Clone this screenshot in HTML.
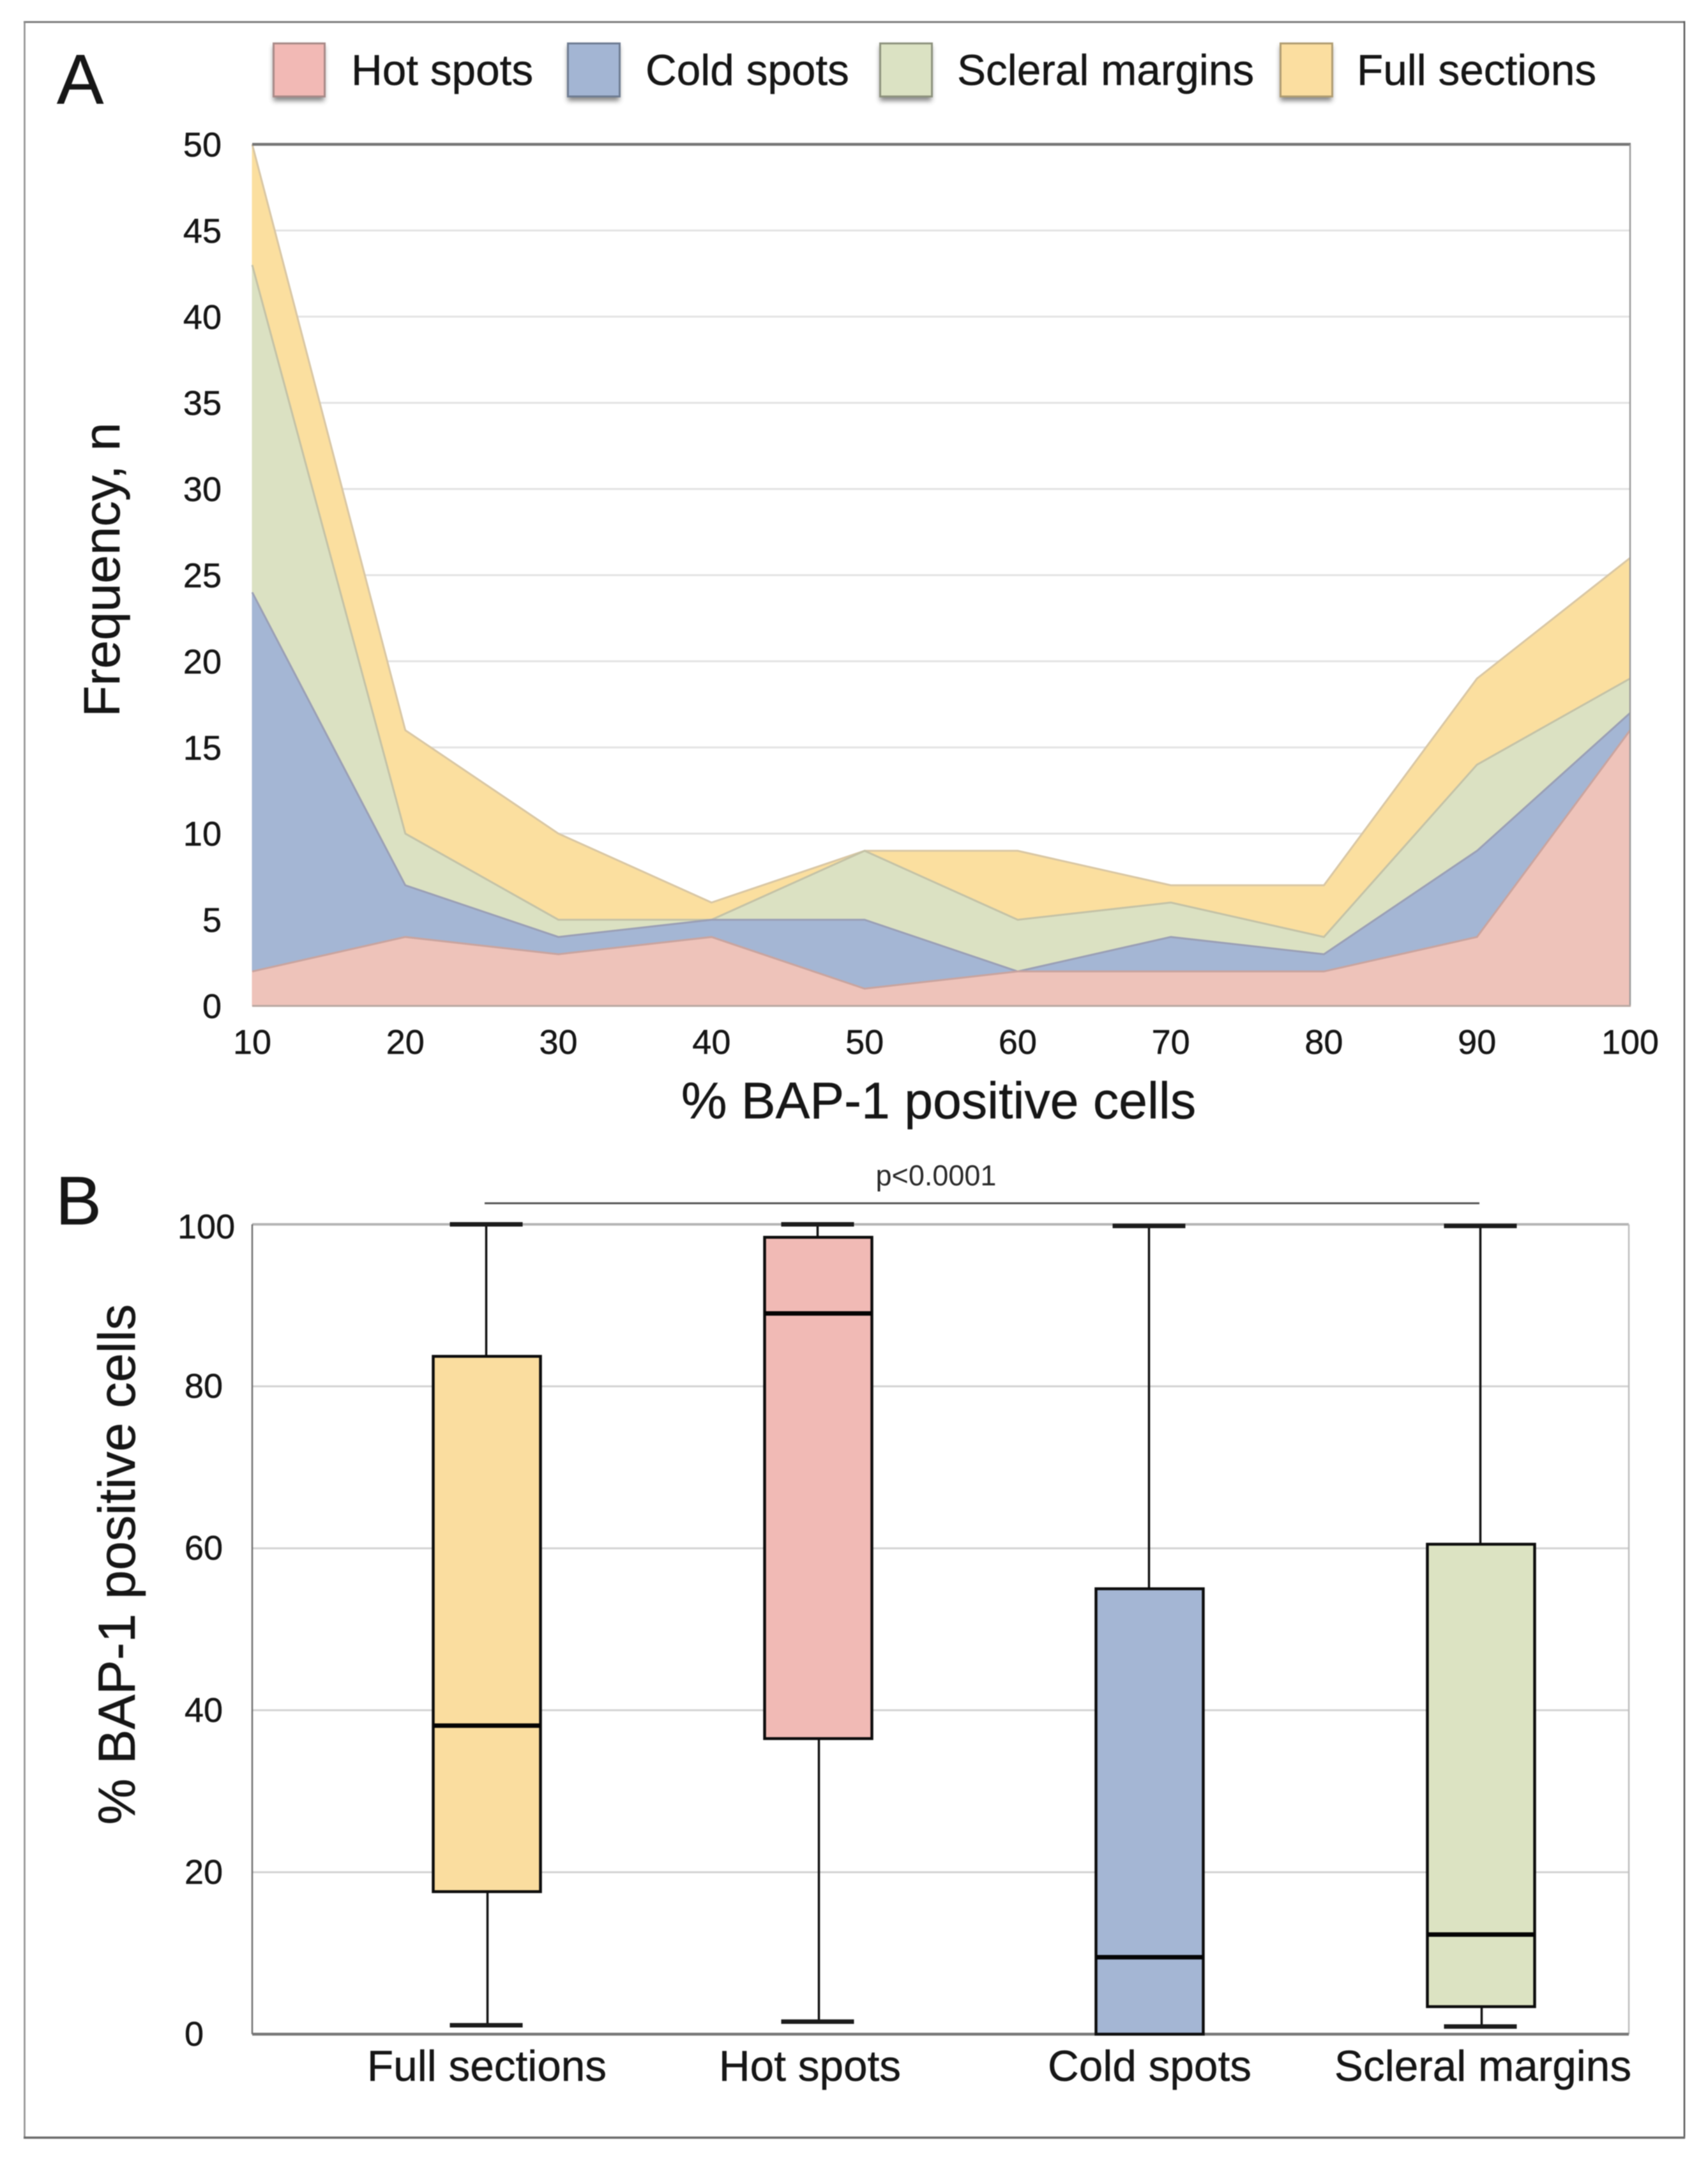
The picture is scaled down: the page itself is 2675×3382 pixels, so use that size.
<!DOCTYPE html>
<html lang="en">
<head>
<meta charset="utf-8">
<title>BAP-1 positive cells figure</title>
<style>
  html, body { margin: 0; padding: 0; background: #fff; }
  svg { display: block; filter: blur(0.9px); }
  text { font-family: "Liberation Sans", sans-serif; fill: #161616; stroke: #161616; stroke-width: 0.5px; }
</style>
</head>
<body>
<svg id="figure" xmlns="http://www.w3.org/2000/svg" width="2675" height="3382" viewBox="0 0 2675 3382">
  <defs>
    <filter id="swatchShadow" x="-30%" y="-30%" width="160%" height="160%">
      <feGaussianBlur stdDeviation="4"/>
    </filter>
  </defs>
  <rect x="0" y="0" width="2675" height="3382" fill="#ffffff"/>

  <g>
    <line x1="37" y1="34.5" x2="2639" y2="34.5" stroke="#7c7c7c" stroke-width="3"/>
    <line x1="38.5" y1="34" x2="38.5" y2="3348" stroke="#8c8c8c" stroke-width="2.5"/>
    <line x1="2638" y1="33" x2="2638" y2="3348" stroke="#555555" stroke-width="2.5"/>
    <line x1="37" y1="3347" x2="2639" y2="3347" stroke="#6a6a6a" stroke-width="3.5"/>
  </g>

  <text x="89" y="162" font-size="110">A</text>
  <text x="87" y="1917" font-size="108">B</text>

  <g>
    <g>
      <rect x="428" y="72" width="80" height="86" fill="#444" opacity="0.65" filter="url(#swatchShadow)"/>
      <rect x="428.5" y="68" width="80" height="83" fill="#f2b9b5" stroke="#a88a88" stroke-width="3"/>
      <text x="550" y="133" font-size="67.5">Hot spots</text>
    </g>
    <g>
      <rect x="889" y="72" width="81" height="86" fill="#444" opacity="0.65" filter="url(#swatchShadow)"/>
      <rect x="889.5" y="68" width="81" height="83" fill="#a3b5d3" stroke="#6e7c92" stroke-width="3"/>
      <text x="1011" y="133" font-size="67.5">Cold spots</text>
    </g>
    <g>
      <rect x="1378" y="72" width="81" height="86" fill="#444" opacity="0.65" filter="url(#swatchShadow)"/>
      <rect x="1378.5" y="68" width="81" height="83" fill="#dbe2c3" stroke="#8e937e" stroke-width="3"/>
      <text x="1499" y="133" font-size="67.5">Scleral margins</text>
    </g>
    <g>
      <rect x="2005" y="72" width="81" height="86" fill="#444" opacity="0.65" filter="url(#swatchShadow)"/>
      <rect x="2005.5" y="68" width="81" height="83" fill="#fbdea0" stroke="#b09d72" stroke-width="3"/>
      <text x="2125" y="133" font-size="67.5">Full sections</text>
    </g>
  </g>

  <g id="chartA"></g>
  <text x="1470" y="1751" font-size="80.6" text-anchor="middle">% BAP-1 positive cells</text>
  <text transform="translate(187 892) rotate(-90)" font-size="80" text-anchor="middle">Frequency, n</text>

  <g id="chartB"></g>
  <text transform="translate(211 2449.5) rotate(-90)" font-size="81.5" text-anchor="middle">% BAP-1 positive cells</text>

  <line x1="759" y1="1884" x2="2317" y2="1884" stroke="#555555" stroke-width="3"/>
  <text x="1466" y="1856" font-size="45" text-anchor="middle" style="fill:#2a2a2a;stroke:none">p&lt;0.0001</text>
</svg>

<script>
// ---- Panel A data ----
const areaCategories = [10, 20, 30, 40, 50, 60, 70, 80, 90, 100];
const hotSpots       = [2, 4, 3, 4, 1, 2, 2, 2, 4, 16];
const coldSpots      = [22, 3, 1, 1, 4, 0, 2, 1, 5, 1];
const scleralMargins = [19, 3, 1, 0, 4, 3, 2, 1, 5, 2];
const fullSections   = [7, 6, 5, 1, 0, 4, 1, 3, 5, 7];
const areaYTicks     = [0, 5, 10, 15, 20, 25, 30, 35, 40, 45, 50];

// ---- Panel B data ----
const boxCategories = ['Full sections', 'Hot spots', 'Cold spots', 'Scleral margins'];
const boxLow    = [1.1, 1.55, 0, 0.95];
const boxQ1     = [17.6, 36.5, 0, 3.4];
const boxMedian = [38.1, 89, 9.5, 12.3];
const boxQ3     = [83.7, 98.4, 55, 60.5];
const boxHigh   = [100, 100, 99.8, 99.8];
const boxYTicks = [0, 20, 40, 60, 80, 100];

const NS = 'http://www.w3.org/2000/svg';
function add(parent, tag, attrs, txt) {
  const n = document.createElementNS(NS, tag);
  for (const k in attrs) n.setAttribute(k, attrs[k]);
  if (txt !== undefined) n.textContent = txt;
  parent.appendChild(n);
  return n;
}

// ---- Panel A ----
(function () {
  const g = document.getElementById('chartA');
  const L = 395, R = 2553, T = 226, B = 1575;
  const xMin = areaCategories[0], xMax = areaCategories[areaCategories.length - 1];
  const yMax = areaYTicks[areaYTicks.length - 1];
  const xA = v => L + (v - xMin) / (xMax - xMin) * (R - L);
  const yA = v => B - v / yMax * (B - T);

  areaYTicks.forEach(t => {
    if (t !== 0 && t !== yMax) {
      const grid = add(g, 'line', { x1: L, x2: R, y1: yA(t), y2: yA(t), stroke: '#e3e3e3', 'stroke-width': 3 });
      
      
    }
    const lab = add(g, 'text', { x: 347, y: yA(t) + 19, 'font-size': 54, 'text-anchor': 'end' }, String(t));
    
    
  });

  areaCategories.forEach(c => {
    const lab = add(g, 'text', { x: xA(c), y: 1650, 'font-size': 54, 'text-anchor': 'middle' }, String(c));
    
    
  });

  const series = [
    { key: 'hot-spots', values: hotSpots, fill: '#eec3ba', edge: '#c9a49f' },
    { key: 'cold-spots', values: coldSpots, fill: '#a4b6d4', edge: '#9a9fb5' },
    { key: 'scleral-margins', values: scleralMargins, fill: '#dbe1c2', edge: '#c4c2a6' },
    { key: 'full-sections', values: fullSections, fill: '#fbdf9f', edge: '#d9c7a4' }
  ];
  let lower = areaCategories.map(() => 0);
  const bands = series.map(s => {
    const upper = lower.map((v, i) => v + s.values[i]);
    const band = { s, upper, lower };
    lower = upper;
    return band;
  });
  bands.slice().reverse().forEach(b => {
    const top = areaCategories.map((c, i) => xA(c) + ',' + yA(b.upper[i]));
    const bottom = areaCategories.map((c, i) => xA(c) + ',' + yA(b.lower[i])).reverse();
    const poly = add(g, 'polygon', { points: top.concat(bottom).join(' '), fill: b.s.fill, stroke: b.s.fill, 'stroke-width': 1 });
    
    
    const edge = add(g, 'polyline', { points: top.join(' '), fill: 'none', stroke: b.s.edge, 'stroke-width': 3 });
    
    
  });

  const top = add(g, 'line', { x1: L, x2: R + 1, y1: T, y2: T, stroke: '#757575', 'stroke-width': 4.5 });
  
  
  const right = add(g, 'line', { x1: R, x2: R, y1: T, y2: B, stroke: '#9a9a9a', 'stroke-width': 2.5 });
  
  
  const base = add(g, 'line', { x1: L, x2: R + 1, y1: B, y2: B, stroke: '#b9a8a2', 'stroke-width': 3 });
  
  
})();

// ---- Panel B ----
(function () {
  const g = document.getElementById('chartB');
  const L = 395, R = 2551, T = 1917, B = 3185;
  const firstCentre = 762.5, step = 519, boxHalf = 84, capHalf = 57;
  const yMax = boxYTicks[boxYTicks.length - 1];
  const xB = i => firstCentre + i * step;
  const yB = v => B - v / yMax * (B - T);
  const fills = ['#fadd9f', '#f1bab5', '#a4b6d4', '#dce3c2'];

  boxYTicks.forEach(t => {
    if (t !== 0 && t !== yMax) {
      const grid = add(g, 'line', { x1: L, x2: R, y1: yB(t), y2: yB(t), stroke: '#d2d2d2', 'stroke-width': 3 });
      
      
    }
    const lab = add(g, 'text', { x: t === yMax ? 278 : 289, y: yB(t) + (t === yMax ? 22 : 18), 'font-size': 54 }, String(t));
    
    
  });

  const topLine = add(g, 'line', { x1: L, x2: R, y1: T, y2: T, stroke: '#b4b4b4', 'stroke-width': 4 });
  
  
  const rightLine = add(g, 'line', { x1: R, x2: R, y1: T, y2: B, stroke: '#bdbdbd', 'stroke-width': 2.5 });
  
  
  const leftLine = add(g, 'line', { x1: L, x2: L, y1: T, y2: B, stroke: '#6f6f6f', 'stroke-width': 2.5 });
  
  
  const baseLine = add(g, 'line', { x1: L, x2: R, y1: B, y2: B, stroke: '#777777', 'stroke-width': 4.5 });
  
  

  boxCategories.forEach((name, i) => {
    const c = xB(i);
    const upperWhisker = add(g, 'line', { x1: c - 1, x2: c - 1, y1: yB(boxHigh[i]), y2: yB(boxQ3[i]), stroke: '#111', 'stroke-width': 3.5 });
    
    
    const upperCap = add(g, 'line', { x1: c - 1 - capHalf, x2: c - 1 + capHalf, y1: yB(boxHigh[i]), y2: yB(boxHigh[i]), stroke: '#1c1c1c', 'stroke-width': 7 });
    
    

    if (boxLow[i] !== boxQ1[i]) {
      const lowerWhisker = add(g, 'line', { x1: c + 1, x2: c + 1, y1: yB(boxQ1[i]), y2: yB(boxLow[i]), stroke: '#111', 'stroke-width': 3.5 });
      
      
      const lowerCap = add(g, 'line', { x1: c - 1 - capHalf, x2: c - 1 + capHalf, y1: yB(boxLow[i]), y2: yB(boxLow[i]), stroke: '#1c1c1c', 'stroke-width': 7 });
      
      
    }

    const rect = add(g, 'rect', { x: c - boxHalf, y: yB(boxQ3[i]), width: boxHalf * 2, height: yB(boxQ1[i]) - yB(boxQ3[i]), fill: fills[i], stroke: '#0d0d0d', 'stroke-width': 4.5 });
    
    
    const med = add(g, 'line', { x1: c - boxHalf, x2: c + boxHalf, y1: yB(boxMedian[i]), y2: yB(boxMedian[i]), stroke: '#050505', 'stroke-width': 7 });
    
    

    const shift = i === 1 ? -13 : (i === 3 ? 3 : 0);
    const lab = add(g, 'text', { x: c + shift, y: 3258, 'font-size': 67.5, 'text-anchor': 'middle' }, name);
    
    
  });
})();
</script>
</body>
</html>
